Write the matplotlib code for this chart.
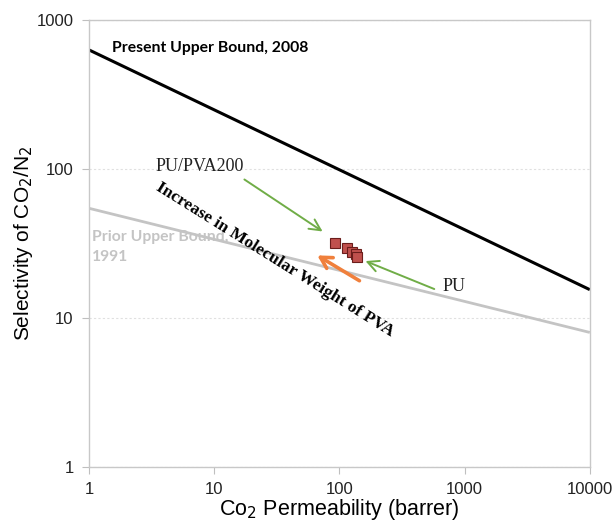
import numpy as np
import matplotlib
matplotlib.use('Agg')
import matplotlib.pyplot as plt

# upper bound lines (end points read at P = 1 and P = 10000)
bound_p = [1, 10000]
present_2008 = [630, 15.5]
prior_1991 = [54.5, 8.0]

# PU / PVA membranes
perm = [92, 115, 126, 135.5, 138]
selectivity = [31.9, 29.5, 27.7, 26.9, 25.7]

x_ticks = [1, 10, 100, 1000, 10000]
y_ticks = [1, 10, 100, 1000]

plt.rcParams['font.family'] = ['Liberation Sans', 'DejaVu Sans']

fig = plt.figure(figsize=(6.16, 5.28), dpi=100)
ax = fig.add_axes([0.1445, 0.1155, 0.813, 0.8466])

ax.plot(bound_p, present_2008, color='black', linewidth=2.2, solid_capstyle='butt')
ax.plot(bound_p, prior_1991, color='#c4c4c4', linewidth=2.0, solid_capstyle='butt')
ax.plot(perm, selectivity, linestyle='none', marker='s', markersize=7.5,
        markerfacecolor='#c0504d', markeredgecolor='#6b1d1b', markeredgewidth=0.8, zorder=5)

ax.set_xscale('log')
ax.set_yscale('log')
ax.set_xlim(1, 10000)
ax.set_ylim(1, 1000)
ax.set_xticks(x_ticks)
ax.set_xticklabels([str(v) for v in x_ticks])
ax.set_yticks(y_ticks)
ax.set_yticklabels([str(v) for v in y_ticks])
ax.minorticks_off()
ax.tick_params(axis='both', direction='out', length=5, color='#bfbfbf', labelsize=12,
               labelcolor='#222222', pad=6)
ax.yaxis.grid(True, linestyle=(0, (2, 2)), color='#e0e0e0', linewidth=0.8)
for s in ax.spines.values():
    s.set_color('#c8c8c8')
    s.set_linewidth(1.0)

ax.set_xlabel('Co$_2$ Permeability (barrer)', fontsize=15.5, labelpad=0)
ax.set_ylabel('Selectivity of CO$_2$/N$_2$', fontsize=15, labelpad=1)

# annotations
ax.text(1.53, 649, 'Present Upper Bound, 2008', fontsize=11.3, fontweight='bold',
        family=['Lato', 'DejaVu Sans'], va='center', ha='left')
ax.text(1.057, 39, 'Prior Upper Bound,\n1991', fontsize=11.3, fontweight='bold',
        family=['Lato', 'DejaVu Sans'], color='#c4c4c4', va='top', ha='left', linespacing=1.55)
ax.text(3.37, 104.7, 'PU/PVA200', fontsize=13, family=['Liberation Serif'],
        color='#222222', va='center', ha='left')
ax.text(670, 16.4, 'PU', fontsize=13, family=['Liberation Serif'],
        color='#222222', va='center', ha='left')
ax.text(30.5, 24.5, 'Increase in Molecular Weight of PVA', fontsize=12.6, fontweight='bold',
        family=['Liberation Serif'], rotation=-32, rotation_mode='anchor',
        va='center', ha='center')

green = '#70ad47'
ax.annotate('', xy=(76.6, 37.2), xytext=(16.7, 87.1),
            arrowprops=dict(arrowstyle='->,head_length=0.8,head_width=0.4', color=green, lw=1.4))
ax.annotate('', xy=(154, 24.5), xytext=(600, 15.4),
            arrowprops=dict(arrowstyle='->,head_length=0.8,head_width=0.4', color=green, lw=1.4))
ax.annotate('', xy=(63.7, 26.9), xytext=(151, 17.4),
            arrowprops=dict(arrowstyle='->,head_length=0.8,head_width=0.45', color='#f0803c', lw=2.6))

plt.savefig('out.png', dpi=100, facecolor='white')
